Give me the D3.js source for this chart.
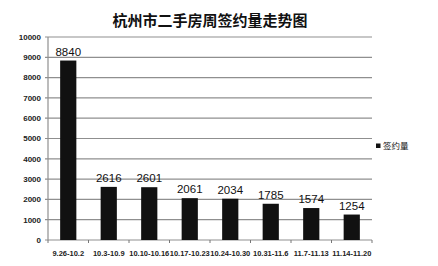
<!DOCTYPE html>
<html>
<head>
<meta charset="utf-8">
<script src="https://cdn.jsdelivr.net/npm/d3@7"></script>
<style>
  body { margin: 0; background: #fff; }
  svg { display: block; }
</style>
</head>
<body>
<script>
let weeks = ["9.26-10.2", "10.3-10.9", "10.10-10.16", "10.17-10.23", "10.24-10.30", "10.31-11.6", "11.7-11.13", "11.14-11.20"];
let signed = [8840, 2616, 2601, 2061, 2034, 1785, 1574, 1254];
let yTicks = [0, 1000, 2000, 3000, 4000, 5000, 6000, 7000, 8000, 9000, 10000];
let seriesName = "签约量";
let title = "杭州市二手房周签约量走势图";

let margin = { top: 37, left: 48, bottom: 26, right: 66 };
let width = 438 - margin.left - margin.right;
let height = 266 - margin.top - margin.bottom;

let root = d3.select("body").append("svg")
  .attr("width", 438)
  .attr("height", 266);

let svg = root.append("g")
  .attr("transform", `translate(${margin.left}, ${margin.top})`);

let x = d3.scaleBand()
  .domain(weeks)
  .range([0, width])
  .paddingInner(0.6)
  .paddingOuter(0.3);

let y = d3.scaleLinear()
  .domain([0, 10000])
  .range([height, 0]);

// gridlines
svg.append("g")
  .selectAll("line")
  .data(yTicks)
  .enter()
  .append("line")
  .attr("x1", -3)
  .attr("x2", width)
  .attr("y1", d => y(d))
  .attr("y2", d => y(d))
  .attr("stroke", "#8f8f8f")
  .attr("stroke-width", 1.2);

// y axis line + labels
svg.append("line")
  .attr("x1", 0).attr("x2", 0)
  .attr("y1", 0).attr("y2", height)
  .attr("stroke", "#8f8f8f")
  .attr("stroke-width", 1.2);

svg.append("g")
  .selectAll("text")
  .data(yTicks)
  .enter()
  .append("text")
  .attr("x", -7)
  .attr("y", d => y(d))
  .attr("dy", "0.35em")
  .attr("text-anchor", "end")
  .style("font-family", "Arial, 'Liberation Sans', sans-serif")
  .style("font-size", "8px")
  .style("font-weight", "bold")
  .attr("fill", "#222")
  .text(d => d);

// x axis ticks between categories
svg.append("g")
  .selectAll("line")
  .data(d3.range(weeks.length + 1))
  .enter()
  .append("line")
  .attr("x1", i => i * width / weeks.length)
  .attr("x2", i => i * width / weeks.length)
  .attr("y1", height)
  .attr("y2", height + 3)
  .attr("stroke", "#777");

svg.append("g")
  .selectAll("text")
  .data(weeks)
  .enter()
  .append("text")
  .attr("x", d => x(d) + x.bandwidth() / 2)
  .attr("y", height + 16)
  .attr("text-anchor", "middle")
  .style("font-family", "Arial, 'Liberation Sans', sans-serif")
  .style("font-size", "7.5px")
  .style("font-weight", "bold")
  .attr("fill", "#222")
  .text(d => d);

// bars
svg.selectAll("rect.bar")
  .data(signed)
  .enter()
  .append("rect")
  .attr("class", "bar")
  .attr("x", (d, i) => x(weeks[i]))
  .attr("y", d => y(d))
  .attr("width", x.bandwidth())
  .attr("height", d => height - y(d))
  .attr("fill", "#111");

// value labels
svg.selectAll("text.val")
  .data(signed)
  .enter()
  .append("text")
  .attr("class", "val")
  .attr("x", (d, i) => x(weeks[i]) + x.bandwidth() / 2)
  .attr("y", d => y(d) - 5)
  .attr("text-anchor", "middle")
  .style("font-family", "Arial, 'Liberation Sans', sans-serif")
  .style("font-size", "11.5px")
  .attr("fill", "#111")
  .text(d => d);

// title
root.append("text")
  .attr("x", 210)
  .attr("y", 26)
  .attr("text-anchor", "middle")
  .style("font-family", "'Noto Sans CJK SC', sans-serif")
  .style("font-size", "15px")
  .style("font-weight", "bold")
  .attr("fill", "#111")
  .text(title);

// legend
let legend = root.append("g")
  .attr("transform", `translate(${margin.left + width + 4}, 146)`);
legend.append("rect")
  .attr("x", 0).attr("y", -2.5)
  .attr("width", 4.5).attr("height", 4.5)
  .attr("fill", "#111");
legend.append("text")
  .attr("x", 7)
  .attr("y", 0)
  .attr("dy", "0.35em")
  .style("font-family", "'Noto Sans CJK SC', sans-serif")
  .style("font-size", "8.5px")
  .attr("fill", "#111")
  .text(seriesName);
</script>
</body>
</html>
